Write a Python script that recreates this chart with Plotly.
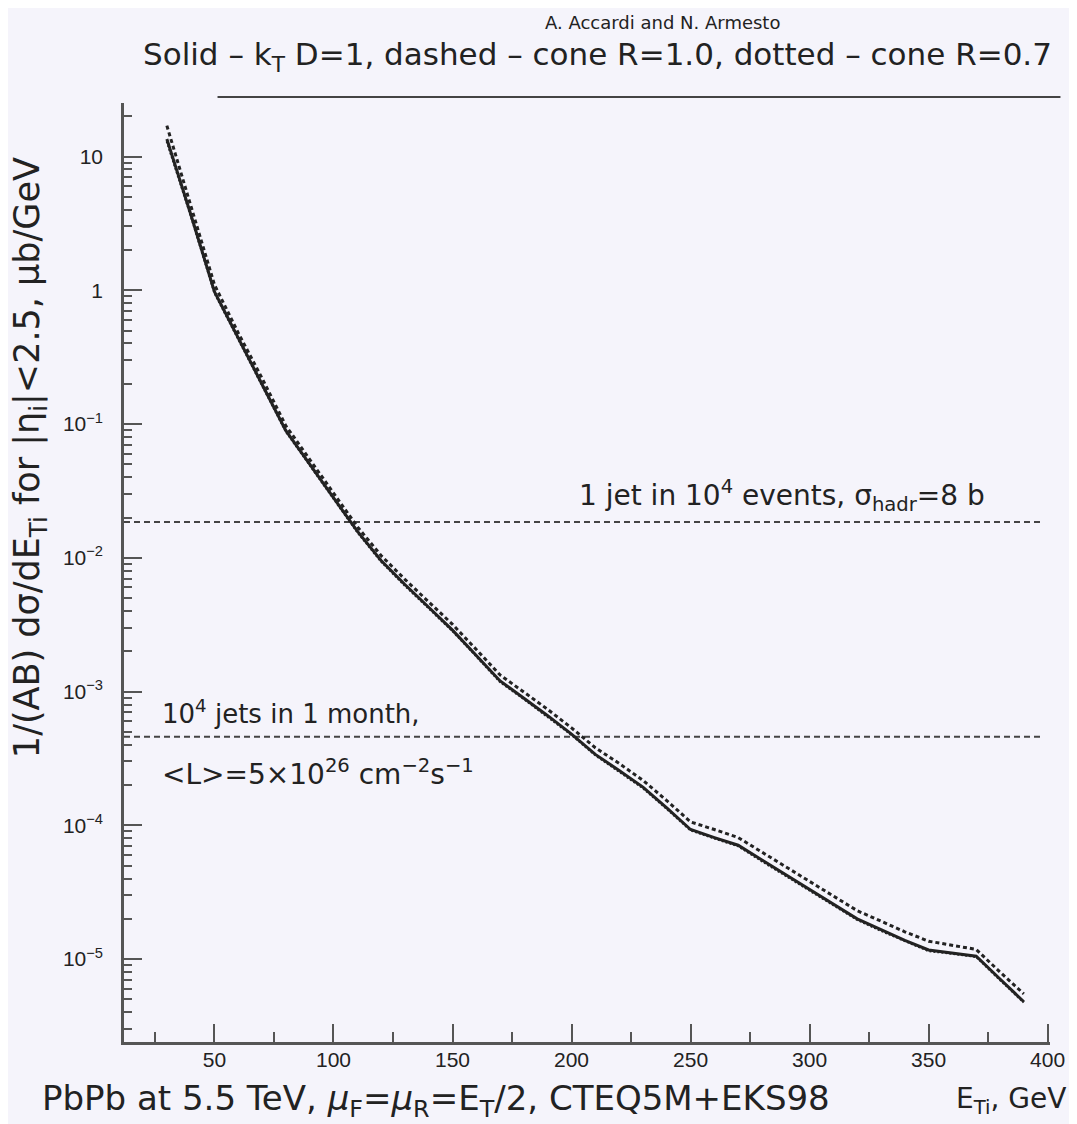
import plotly.graph_objects as go

# ---- data ----
E_T = [30, 40, 50, 60, 70, 80, 90, 100, 110, 120, 130, 140, 150, 160, 170, 180, 190,
       200, 210, 220, 230, 240, 250, 260, 270, 280, 290, 300, 310, 320, 330, 340, 350,
       360, 370, 380, 390]

solid_kt = [13.5, 3.72, 0.977, 0.437, 0.200, 0.0891, 0.0501, 0.0282, 0.0158, 0.00955,
            0.00631, 0.00427, 0.00288, 0.00186, 0.00120, 8.9e-4, 6.6e-4, 4.8e-4, 3.39e-4,
            2.57e-4, 1.93e-4, 1.35e-4, 9.3e-5, 8.1e-5, 7.1e-5, 5.5e-5, 4.27e-5, 3.31e-5,
            2.57e-5, 2.0e-5, 1.66e-5, 1.38e-5, 1.17e-5, 1.11e-5, 1.05e-5, 7.1e-6, 4.8e-6]

dashed_cone10 = [17.0, 4.3, 1.10, 0.48, 0.22, 0.097, 0.054, 0.0305, 0.0171, 0.0104,
                 0.0069, 0.00468, 0.00318, 0.00206, 0.00133, 9.9e-4, 7.35e-4, 5.35e-4,
                 3.8e-4, 2.9e-4, 2.17e-4, 1.53e-4, 1.06e-4, 9.3e-5, 8.1e-5, 6.3e-5, 4.9e-5,
                 3.8e-5, 2.96e-5, 2.3e-5, 1.92e-5, 1.6e-5, 1.36e-5, 1.27e-5, 1.18e-5,
                 8.0e-6, 5.5e-6]

dotted_cone07 = [13.0, 3.65, 0.96, 0.43, 0.197, 0.088, 0.0495, 0.0279, 0.0156, 0.0094,
                 0.0062, 0.0042, 0.00284, 0.00184, 0.00118, 8.8e-4, 6.5e-4, 4.75e-4,
                 3.35e-4, 2.54e-4, 1.9e-4, 1.33e-4, 9.2e-5, 8.0e-5, 7.0e-5, 5.4e-5, 4.2e-5,
                 3.27e-5, 2.52e-5, 1.97e-5, 1.63e-5, 1.36e-5, 1.15e-5, 1.10e-5, 1.04e-5,
                 7.0e-6, 4.75e-6]

limit_x = [12, 398]
limit_events = [0.0185, 0.0185]      # 1 jet in 10^4 events
limit_month = [4.6e-4, 4.6e-4]       # 10^4 jets in 1 month

x_ticks = [50, 100, 150, 200, 250, 300, 350, 400]
y_ticks = [10, 1, 0.1, 0.01, 0.001, 1e-4, 1e-5]
y_ticktext = ["10", "1", "10<sup>−1</sup>", "10<sup>−2</sup>", "10<sup>−3</sup>",
              "10<sup>−4</sup>", "10<sup>−5</sup>"]

FONT = "DejaVu Sans"
TICKFONT = "Liberation Sans"
INK = "#222222"
AXC = "#555555"
BG = "#f5f4fb"

fig = go.Figure()

fig.add_trace(go.Scatter(x=limit_x, y=limit_events, mode="lines",
                         line=dict(color="#444444", width=2, dash="6px,4px"), showlegend=False))
fig.add_trace(go.Scatter(x=limit_x, y=limit_month, mode="lines",
                         line=dict(color="#444444", width=2, dash="6px,4px"), showlegend=False))
fig.add_trace(go.Scatter(x=E_T, y=dotted_cone07, mode="lines",
                         line=dict(color=INK, width=2.5, dash="2px,2px"), showlegend=False))
fig.add_trace(go.Scatter(x=E_T, y=dashed_cone10, mode="lines",
                         line=dict(color=INK, width=3, dash="4px,3px"), showlegend=False))
fig.add_trace(go.Scatter(x=E_T, y=solid_kt, mode="lines",
                         line=dict(color=INK, width=3), showlegend=False))

# page body has an 8px margin: size the figure so the plot area lands where the reference has it
fig.update_layout(
    width=1069, height=1116,
    margin=dict(l=116, r=25, t=95, b=82),
    paper_bgcolor=BG, plot_bgcolor=BG,
    font=dict(family=FONT, color=INK),
    showlegend=False,
)

fig.update_xaxes(
    range=[12, 401], showgrid=False, zeroline=False,
    showline=True, linecolor=AXC, linewidth=2.5,
    tickmode="array", tickvals=x_ticks,
    ticks="inside", ticklen=18, tickwidth=2, tickcolor=AXC,
    minor=dict(ticks="inside", dtick=25, tick0=0, ticklen=10, tickwidth=2, tickcolor=AXC),
    tickfont=dict(size=21, family=TICKFONT, color=INK),
    ticklabelstandoff=-3,
)
fig.update_yaxes(
    type="log", range=[-5.62, 1.40], showgrid=False, zeroline=False,
    showline=True, linecolor=AXC, linewidth=2.5,
    tickmode="array", tickvals=y_ticks, ticktext=y_ticktext,
    ticks="inside", ticklen=18, tickwidth=2, tickcolor=AXC,
    minor=dict(ticks="inside", dtick="D1", ticklen=8, tickwidth=2, tickcolor=AXC),
    tickfont=dict(size=21, family=TICKFONT, color=INK),
    ticklabelstandoff=14,
)

# separator line under the header
fig.add_shape(type="line", xref="paper", yref="paper", x0=0.101, x1=1.0113, y0=1.0064, y1=1.0064,
              line=dict(color="#444444", width=2))

annos = [
    dict(text="A. Accardi and N. Armesto", x=0.581, y=1.086, xanchor="center", size=18),
    dict(text="Solid – k<sub>T</sub> D=1, dashed – cone R=1.0, dotted – cone R=0.7",
         x=0.511, y=1.050, xanchor="center", size=31),
    dict(text="1 jet in 10<sup>4</sup> events, σ<sub>hadr</sub>=8 b",
         x=0.489, y=0.5825, xanchor="left", size=28),
    dict(text="10<sup>4</sup> jets in 1 month,", x=0.0388, y=0.3514, xanchor="left", size=26),
    dict(text="&lt;L&gt;=5×10<sup>26</sup> cm<sup>−2</sup>s<sup>−1</sup>",
         x=0.0388, y=0.2875, xanchor="left", size=28),
    dict(text="PbPb at 5.5 TeV, <i>μ</i><sub>F</sub>=<i>μ</i><sub>R</sub>=E<sub>T</sub>/2, CTEQ5M+EKS98",
         x=-0.0905, y=-0.0618, xanchor="left", size=34),
    dict(text="E<sub>Ti</sub>, GeV", x=1.0195, y=-0.0618, xanchor="right", size=28),
]
for a in annos:
    fig.add_annotation(text=a["text"], x=a["x"], y=a["y"], xref="paper", yref="paper",
                       xanchor=a["xanchor"], yanchor="middle", showarrow=False,
                       font=dict(size=a["size"], family=FONT, color=INK))

fig.add_annotation(text="1/(AB) dσ/dE<sub>Ti</sub> for |η<sub>i</sub>|&lt;2.5, μb/GeV",
                   x=-0.1013, y=0.622, xref="paper", yref="paper", textangle=-90,
                   xanchor="center", yanchor="middle", showarrow=False,
                   font=dict(size=35, family=FONT, color=INK))

fig.write_html("out.html")
